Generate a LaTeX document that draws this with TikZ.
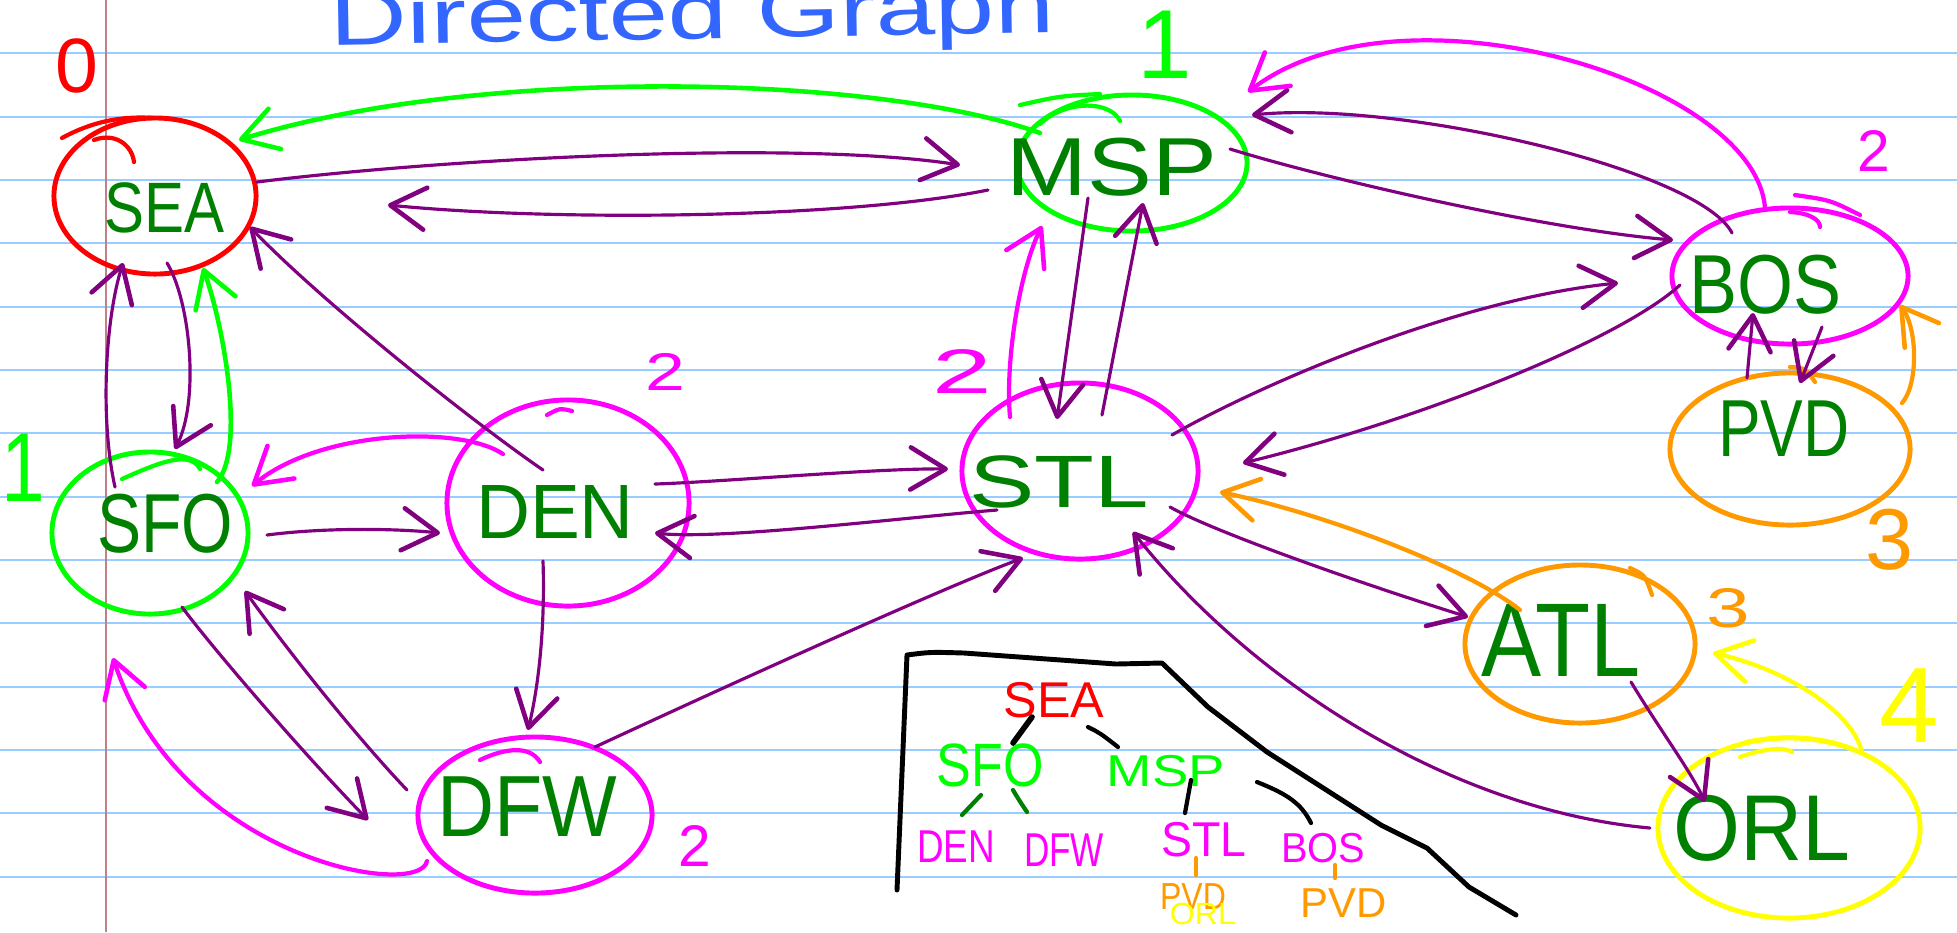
\documentclass[tikz,border=0pt]{standalone}
\usepackage{fontspec}
\setmainfont{Liberation Sans}
\usetikzlibrary{arrows.meta,shapes.geometric,calc}
\definecolor{pur}{RGB}{128,0,128}
\definecolor{grn}{RGB}{0,255,0}
\definecolor{dkg}{RGB}{0,128,0}
\definecolor{mag}{RGB}{255,0,255}
\definecolor{org}{RGB}{255,153,0}
\definecolor{yel}{RGB}{255,255,0}
\definecolor{blu}{RGB}{51,102,255}
\definecolor{rulec}{RGB}{153,204,255}
\definecolor{margc}{RGB}{192,128,136}
\newcommand\fsz[1]{\fontsize{#1}{#1}\selectfont}
\newcommand\hsx[2]{\scalebox{#1}[1]{#2}}
\begin{document}
\begin{tikzpicture}[x=0.01cm,y=-0.01cm,
  ell/.style={ellipse,inner sep=0pt,outer sep=0pt,line width=1.4pt},
  lab/.style={text=dkg,inner sep=0pt},
  num/.style={inner sep=0pt},
  tl/.style={inner sep=0pt},
  barb/.style={-{Straight Barb[length=10pt,width=12pt,line width=1.3pt,round]}},
  pe/.style={draw=pur,line width=0.9pt,line cap=round,barb},
  ge/.style={draw=grn,line width=1.3pt,line cap=round,barb},
  me/.style={draw=mag,line width=1.2pt,line cap=round,barb},
  oe/.style={draw=org,line width=1.2pt,line cap=round,barb},
  ye/.style={draw=yel,line width=1.2pt,line cap=round,barb},
  hook/.style={line width=1.2pt,line cap=round},
  tc/.style={line width=1.2pt,line cap=round},
  rule/.style={draw=rulec,line width=0.55pt},
  box/.style={draw=black,line width=1.4pt,line join=round,line cap=round}]
\useasboundingbox (0,0) rectangle (1957,932);
\clip (0,0) rectangle (1957,932);
\fill[white] (0,0) rectangle (1957,932);
% ruled paper
\foreach \k in {0,...,13}{\draw[rule] (0,{53.3+63.33*\k}) -- (1957,{53.3+63.33*\k});}
\draw[draw=margc,line width=0.4pt] (106,0) -- (106,932);
% title
\node[text=blu,inner sep=0pt,anchor=base west,rotate=1,font=\fsz{22pt}] (title) at (330,45) {\hsx{1.38}{Directed Graph}};
% vertices
\node[ell,draw=red,minimum width=2.02cm,minimum height=1.56cm] (sea) at (155,196) {};
\node[ell,draw=grn,minimum width=2.30cm,minimum height=1.36cm] (msp) at (1132,163) {};
\node[ell,draw=mag,minimum width=2.36cm,minimum height=1.36cm] (bos) at (1790,276) {};
\node[ell,draw=org,minimum width=2.40cm,minimum height=1.52cm] (pvd) at (1790,449) {};
\node[ell,draw=mag,minimum width=2.36cm,minimum height=1.76cm] (stl) at (1080,471) {};
\node[ell,draw=org,minimum width=2.30cm,minimum height=1.58cm] (atl) at (1580,644) {};
\node[ell,draw=yel,minimum width=2.62cm,minimum height=1.80cm] (orl) at (1789,828) {};
\node[ell,draw=grn,minimum width=1.96cm,minimum height=1.62cm] (sfo) at (150,533) {};
\node[ell,draw=mag,minimum width=2.42cm,minimum height=2.06cm] (den) at (568,503) {};
\node[ell,draw=mag,minimum width=2.34cm,minimum height=1.56cm] (dfw) at (535,815) {};
% hand-drawn overshoots of the circles
\draw[hook,red] (62,138) .. controls (95,120) and (125,116) .. (154,118);
\draw[hook,red] (94,140) .. controls (115,132) and (132,145) .. (134,162);
\draw[hook,grn] (122,479) .. controls (160,462) and (190,450) .. (200,469);
\draw[hook,grn] (1020,105) .. controls (1060,96) .. (1100,94);
\draw[hook,grn] (1040,124) .. controls (1065,100) and (1110,100) .. (1120,121);
\draw[hook,mag] (480,760) .. controls (505,748) and (530,745) .. (540,762);
\draw[hook,mag] (547,415) .. controls (560,408) .. (572,411);
\draw[hook,mag] (1795,195) .. controls (1830,200) .. (1860,215);
\draw[hook,mag] (1790,212) .. controls (1810,213) and (1820,220) .. (1820,227);
\draw[hook,org] (1790,367) .. controls (1805,368) .. (1815,382);
\draw[hook,org] (1630,568) .. controls (1645,575) .. (1652,595);
\draw[hook,yel] (1746,742) .. controls (1790,733) and (1830,738) .. (1860,752);
\draw[hook,yel] (1740,757) .. controls (1765,748) and (1785,747) .. (1792,752);
% vertex labels
\node[lab,font=\fsz{20.3pt}] (seaL) at (164,208) {\hsx{.84}{SEA}};
\node[lab,font=\fsz{23.8pt}] (sfoL) at (165,524) {\hsx{.79}{SFO}};
\node[lab,font=\fsz{21.9pt}] (denL) at (555,512) {\hsx{.97}{DEN}};
\node[lab,font=\fsz{24.7pt}] (dfwL) at (527,807) {\hsx{.91}{DFW}};
\node[lab,font=\fsz{23.4pt}] (mspL) at (1112,167) {\hsx{1.18}{MSP}};
\node[lab,font=\fsz{21.1pt}] (stlL) at (1059,482) {\hsx{1.32}{STL}};
\node[lab,font=\fsz{23.8pt}] (bosL) at (1765,285) {\hsx{.86}{BOS}};
\node[lab,font=\fsz{23pt}] (pvdL) at (1784,429) {\hsx{.79}{PVD}};
\node[lab,font=\fsz{29.8pt}] (atlL) at (1561,640) {\hsx{.86}{ATL}};
\node[lab,font=\fsz{26.6pt}] (orlL) at (1762,828) {\hsx{.92}{ORL}};
% level numbers
\node[num,text=red,font=\fsz{21.9pt}] (n0) at (77,66) {0};
\node[num,text=grn,font=\fsz{27.9pt}] (n1a) at (1165,45) {1};
\node[num,text=grn,font=\fsz{27.9pt},anchor=west] (n1b) at (1,468) {\hsx{.8}{1}};
\node[num,text=mag,font=\fsz{15.1pt}] (n2a) at (665,372) {\hsx{1.35}{2}};
\node[num,text=mag,font=\fsz{17.9pt}] (n2b) at (962,372) {\hsx{1.7}{2}};
\node[num,text=mag,font=\fsz{16.7pt}] (n2c) at (695,846) {2};
\node[num,text=mag,font=\fsz{16.7pt}] (n2d) at (1874,151) {2};
\node[num,text=org,font=\fsz{24.6pt}] (n3a) at (1890,540) {3};
\node[num,text=org,font=\fsz{15.9pt}] (n3b) at (1728,608) {\hsx{1.4}{3}};
\node[num,text=yel,font=\fsz{30.5pt}] (n4) at (1909,706) {4};
% purple edges
\draw[pe] ($(sea)+(102,-14)$) .. controls (450,158) and (800,140) .. ($(msp)+(-172,2)$);
\draw[pe] ($(msp)+(-144,27)$) .. controls (850,218) and (560,222) .. ($(sea)+(233,9)$);
\draw[pe] ($(sfo)+(-35,-46)$) .. controls (100,420) and (105,320) .. ($(sea)+(-32,67)$);
\draw[pe] ($(sea)+(12,67)$) .. controls (190,300) and (200,400) .. ($(sfo)+(25,-84)$);
\draw[pe] ($(den)+(-25,-33)$) .. controls (470,420) and (320,300) .. ($(sea)+(95,31)$);
\draw[pe] ($(sfo)+(117,2)$) .. controls (320,528) and (390,528) .. ($(den)+(-128,30)$);
\draw[pe] ($(sfo)+(32,74)$) .. controls (210,645) and (300,750) .. ($(dfw)+(-167,5)$);
\draw[pe] ($(dfw)+(-128,-25)$) .. controls (350,730) and (280,640) .. ($(sfo)+(95,58)$);
\draw[pe] ($(den)+(-25,58)$) .. controls (545,620) and (540,680) .. ($(dfw)+(-7,-85)$);
\draw[pe] ($(den)+(87,-19)$) .. controls (720,482) and (880,468) .. ($(stl)+(-132,-2)$);
\draw[pe] ($(stl)+(-83,39)$) .. controls (900,518) and (720,540) .. ($(den)+(87,30)$);
\draw[pe] ($(dfw)+(60,-68)$) .. controls (750,675) and (950,585) .. ($(stl)+(-57,87)$);
\draw[pe] ($(msp)+(-44,35)$) -- ($(stl)+(-23,-52)$);
\draw[pe] ($(stl)+(22,-56)$) -- ($(msp)+(11,40)$);
\draw[pe] ($(msp)+(98,-14)$) .. controls (1330,180) and (1550,230) .. ($(bos)+(-117,-36)$);
\draw[pe] ($(bos)+(-58,-43)$) .. controls (1700,170) and (1400,100) .. ($(msp)+(120,-48)$);
\draw[pe] ($(stl)+(92,-36)$) .. controls (1250,390) and (1450,300) .. ($(bos)+(-172,7)$);
\draw[pe] ($(bos)+(-110,9)$) .. controls (1620,340) and (1420,420) .. ($(stl)+(163,-8)$);
\draw[pe] ($(stl)+(90,36)$) .. controls (1210,530) and (1350,580) .. ($(atl)+(-112,-27)$);
\draw[pe] ($(atl)+(51,38)$) .. controls (1660,730) and (1690,770) .. ($(orl)+(-84,-26)$);
\draw[pe] ($(orl)+(-139,0)$) .. controls (1450,810) and (1250,680) .. ($(stl)+(53,61)$);
\draw[pe] ($(pvd)+(-43,-71)$) -- ($(bos)+(-37,37)$);
\draw[pe] ($(bos)+(32,51)$) -- ($(pvd)+(10,-66)$);
% breadth-first tree edges
\draw[ge] ($(msp)+(-92,-30)$) .. controls (880,75) and (480,65) .. ($(sea)+(84,-56)$);
\draw[ge] ($(sfo)+(67,-51)$) .. controls (245,450) and (225,330) .. ($(sea)+(48,72)$);
\draw[me] ($(den)+(-65,-49)$) .. controls (460,425) and (320,430) .. ($(sfo)+(102,-47)$);
\draw[me] ($(dfw)+(-108,46)$) .. controls (420,900) and (180,860) .. ($(sfo)+(-37,125)$);
\draw[me] ($(stl)+(-70,-54)$) .. controls (1005,360) and (1020,270) .. ($(msp)+(-90,63)$);
\draw[me] ($(bos)+(-25,-68)$) .. controls (1755,80) and (1400,-25) .. ($(msp)+(116,-71)$);
\draw[oe] ($(pvd)+(112,-46)$) .. controls (1918,385) and (1918,330) .. ($(bos)+(110,29)$);
\draw[oe] ($(atl)+(-60,-34)$) .. controls (1470,570) and (1330,515) .. ($(stl)+(140,21)$);
\draw[ye] ($(orl)+(73,-75)$) .. controls (1855,715) and (1790,670) .. ($(atl)+(133,9)$);
% tree box
\draw[box] (897,890) -- (907,655) .. controls (930,652) .. (964,653) -- (1116,664) -- (1162,663) -- (1208,707) -- (1267,752) -- (1381,825) -- (1427,848) -- (1469,887) -- (1516,915);
\node[tl,text=red,font=\fsz{14.3pt}] (tsea) at (1054,700) {SEA};
\node[tl,text=grn,font=\fsz{17.4pt}] (tsfo) at (990,765) {\hsx{.85}{SFO}};
\node[tl,text=grn,font=\fsz{12.7pt}] (tmsp) at (1166,771) {\hsx{1.22}{MSP}};
\node[tl,text=mag,font=\fsz{13.1pt}] (tden) at (956,847) {\hsx{.8}{DEN}};
\node[tl,text=mag,font=\fsz{13.5pt}] (tdfw) at (1064,850) {\hsx{.74}{DFW}};
\node[tl,text=mag,font=\fsz{13.9pt}] (tstl) at (1204,840) {\hsx{.95}{STL}};
\node[tl,text=mag,font=\fsz{11.9pt}] (tbos) at (1323,848) {\hsx{.95}{BOS}};
\node[tl,text=org,font=\fsz{10.7pt}] (tpvda) at (1193,897) {\hsx{.85}{PVD}};
\node[tl,text=yel,font=\fsz{8.7pt}] (torl) at (1203,914) {\hsx{1.05}{ORL}};
\node[tl,text=org,font=\fsz{11.9pt}] (tpvdb) at (1344,903) {PVD};
\draw[tc,black,line width=1.6pt] ($(tsea)+(-22,17)$) -- ($(tsfo)+(23,-22)$);
\draw[tc,black] ($(tsea)+(34,27)$) .. controls +(12,6) .. ($(tmsp)+(-48,-24)$);
\draw[tc,dkg] ($(tsfo)+(-9,30)$) -- ($(tden)+(6,-32)$);
\draw[tc,dkg] ($(tsfo)+(23,25)$) .. controls +(6,10) .. ($(tdfw)+(-37,-38)$);
\draw[tc,black] ($(tmsp)+(25,9)$) -- ($(tstl)+(-19,-27)$);
\draw[tc,black] ($(tmsp)+(91,11)$) .. controls +(30,12) and +(-10,-20) .. ($(tbos)+(-12,-25)$);
\draw[tc,org] ($(tstl)+(-8,18)$) -- ($(tpvda)+(3,-22)$);
\draw[tc,org] ($(tbos)+(12,17)$) -- ($(tpvdb)+(-9,-25)$);
\end{tikzpicture}
\end{document}
